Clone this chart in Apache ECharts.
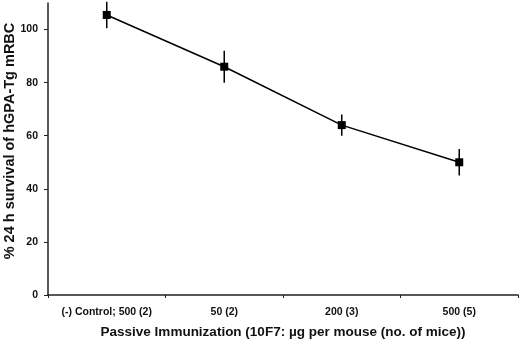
<!DOCTYPE html>
<html>
<head>
<meta charset="utf-8">
<script src="https://cdn.jsdelivr.net/npm/echarts@6/dist/echarts.min.js"></script>
<style>
html,body{margin:0;padding:0;background:#fff;}
#chart{width:520px;height:344px;}
</style>
</head>
<body>
<div id="chart"></div>
<script>
// doses on the x axis
var groups = ['(-) Control; 500 (2)', '50 (2)', '200 (3)', '500 (5)'];
// % survival
var survival = [105.5, 86, 64, 50];
// error bar half-heights
var errors = [5, 6, 4, 5];

var errData = [];
for (var i = 0; i < groups.length; i++) {
    errData.push([i, survival[i] - errors[i], survival[i] + errors[i]]);
}

var chart = echarts.init(document.getElementById('chart'));

var font = 'Liberation Sans, Arial, sans-serif';

chart.setOption({
    animation: false,
    grid: {left: 48, right: 2, top: 3, bottom: 49, outerBoundsMode: 'none', containLabel: false},
    xAxis: {
        type: 'category',
        data: groups,
        boundaryGap: true,
        name: 'Passive Immunization (10F7: \u00b5g per mouse (no. of mice))',
        nameLocation: 'middle',
        nameGap: 30,
        nameMoveOverlap: false,
        nameTextStyle: {fontFamily: font, fontWeight: 'bold', fontSize: 13.5, color: '#111'},
        axisLine: {lineStyle: {color: '#222', width: 1.5}},
        axisTick: {show: true, length: 3, lineStyle: {color: '#222'}},
        axisLabel: {fontFamily: font, fontWeight: 'bold', fontSize: 10.5, color: '#111', margin: 12, interval: 0}
    },
    yAxis: {
        type: 'value',
        min: 0,
        max: 110,
        interval: 20,
        name: '% 24 h survival of hGPA-Tg mRBC',
        nameLocation: 'middle',
        nameGap: 31,
        nameMoveOverlap: false,
        nameTextStyle: {fontFamily: font, fontWeight: 'bold', fontSize: 14.5, color: '#111', padding: [0, 0, 0, 16]},
        splitLine: {show: false},
        axisLine: {show: true, lineStyle: {color: '#222', width: 1.5}},
        axisTick: {show: true, length: 4, lineStyle: {color: '#222'}},
        axisLabel: {fontFamily: font, fontWeight: 'bold', fontSize: 10.5, color: '#111', margin: 10, showMaxLabel: false}
    },
    series: [
        {
            // vertical error bars, no caps
            type: 'custom',
            data: errData,
            z: 1,
            renderItem: function (params, api) {
                var lo = api.coord([api.value(0), api.value(1)]);
                var hi = api.coord([api.value(0), api.value(2)]);
                return {
                    type: 'line',
                    shape: {x1: lo[0], y1: lo[1], x2: hi[0], y2: hi[1]},
                    style: {stroke: '#000', lineWidth: 1.5}
                };
            }
        },
        {
            type: 'line',
            data: survival,
            z: 2,
            symbol: 'rect',
            symbolSize: 8,
            itemStyle: {color: '#000'},
            lineStyle: {color: '#000', width: 1.5}
        }
    ]
});
</script>
</body>
</html>
